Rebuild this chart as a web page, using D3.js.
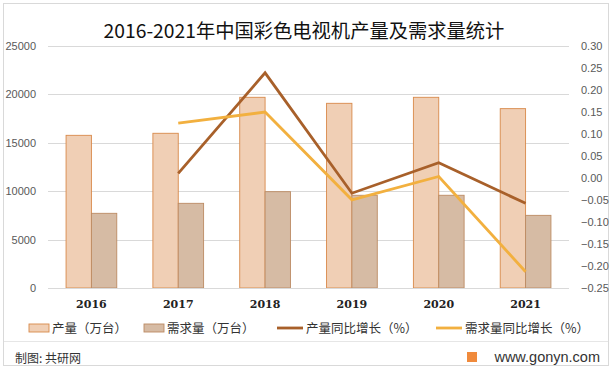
<!DOCTYPE html>
<html>
<head>
<meta charset="utf-8">
<script src="https://cdnjs.cloudflare.com/ajax/libs/d3/7.8.5/d3.min.js"></script>
<style>
	body { margin: 0; background: #fff; }
	svg { display: block; font-family: 'Noto Sans CJK SC', 'Noto Sans', sans-serif; }
</style>
</head>
<body>
<svg id="chart"></svg>
<script>
const WIDTH = 612;
const HEIGHT = 369;

const years = ['2016', '2017', '2018', '2019', '2020', '2021'];
const production = [15740, 15950, 19660, 19040, 19660, 18490];
const demand = [7700, 8730, 9930, 9560, 9560, 7490];
const productionGrowth = [null, 0.010, 0.238, -0.035, 0.034, -0.058];
const demandGrowth = [null, 0.124, 0.149, -0.050, 0.003, -0.213];

const leftTicks = [0, 5000, 10000, 15000, 20000, 25000];
const rightTicks = [0.30, 0.25, 0.20, 0.15, 0.10, 0.05, 0, -0.05, -0.10, -0.15, -0.20, -0.25];

const COLORS = {
	prod: '#F0CFB5',
	prodStroke: '#D8894A',
	demand: '#D6BBA4',
	demandStroke: '#BC8B63',
	prodLine: '#A8602A',
	demandLine: '#F2B03F',
	grid: '#D9D9D9',
	tick: '#595959'
};

const plot = { left: 48, right: 569, top: 45.5, bottom: 288 };

const svg = d3.select('#chart').attr('width', WIDTH).attr('height', HEIGHT);

// frame
svg.append('rect')
	.attr('x', 3.5).attr('y', 3.5)
	.attr('width', WIDTH - 7).attr('height', HEIGHT - 7)
	.attr('fill', '#fff').attr('stroke', '#D9D9D9');

const x = d3.scaleBand().domain(years).range([plot.left, plot.right]);
const y = d3.scaleLinear().domain([0, 25000]).range([plot.bottom, plot.top]);
const y2 = d3.scaleLinear().domain([-0.25, 0.30]).range([plot.bottom, plot.top]);

const barW = x.bandwidth() * 0.292;

// grid
svg.append('g')
	.selectAll('line')
	.data(leftTicks)
	.join('line')
	.attr('x1', plot.left).attr('x2', plot.right)
	.attr('y1', d => Math.round(y(d)) + 0.5).attr('y2', d => Math.round(y(d)) + 0.5)
	.attr('stroke', COLORS.grid);

// left axis
const axisL = d3.axisLeft(y).tickValues(leftTicks).tickSize(0).tickPadding(12)
	.tickFormat(d3.format('d'));
svg.append('g')
	.attr('transform', `translate(${plot.left},0)`)
	.call(axisL)
	.call(g => g.select('.domain').remove())
	.call(g => g.selectAll('text').attr('fill', COLORS.tick).style('font-size', '11px').style('font-family', 'Liberation Sans, sans-serif'));

// right axis
const axisR = d3.axisRight(y2).tickValues(rightTicks).tickSize(0).tickPadding(12)
	.tickFormat(d3.format('.2f'));
svg.append('g')
	.attr('transform', `translate(${plot.right},0)`)
	.call(axisR)
	.call(g => g.select('.domain').remove())
	.call(g => g.selectAll('text').attr('fill', COLORS.tick).style('font-size', '11px').style('font-family', 'Liberation Sans, sans-serif'));

// bars
const cx = d => x(d) + x.bandwidth() / 2;

svg.append('g')
	.selectAll('rect')
	.data(years)
	.join('rect')
	.attr('x', d => cx(d) - barW)
	.attr('y', (d, i) => y(production[i]))
	.attr('width', barW)
	.attr('height', (d, i) => y(0) - y(production[i]))
	.attr('fill', COLORS.prod)
	.attr('stroke', COLORS.prodStroke)
	.attr('stroke-width', 0.9);

svg.append('g')
	.selectAll('rect')
	.data(years)
	.join('rect')
	.attr('x', d => cx(d))
	.attr('y', (d, i) => y(demand[i]))
	.attr('width', barW)
	.attr('height', (d, i) => y(0) - y(demand[i]))
	.attr('fill', COLORS.demand)
	.attr('stroke', COLORS.demandStroke)
	.attr('stroke-width', 0.9);

// baseline
svg.append('line')
	.attr('x1', plot.left).attr('x2', plot.right)
	.attr('y1', y(0) + 0.5).attr('y2', y(0) + 0.5)
	.attr('stroke', COLORS.grid);

// lines
const line = d3.line()
	.defined(d => d.v !== null)
	.x(d => cx(d.year))
	.y(d => y2(d.v));

svg.append('path')
	.datum(years.map((year, i) => ({ year, v: productionGrowth[i] })))
	.attr('d', line)
	.attr('fill', 'none')
	.attr('stroke', COLORS.prodLine)
	.attr('stroke-width', 2.8);

svg.append('path')
	.datum(years.map((year, i) => ({ year, v: demandGrowth[i] })))
	.attr('d', line)
	.attr('fill', 'none')
	.attr('stroke', COLORS.demandLine)
	.attr('stroke-width', 2.8);

// category labels
svg.append('g')
	.selectAll('text')
	.data(years)
	.join('text')
	.attr('x', cx)
	.attr('y', 308)
	.attr('text-anchor', 'middle')
	.style('font-size', '11px')
	.style('font-weight', 'bold')
	.style('font-family', 'DejaVu Serif, serif')
	.attr('fill', '#222')
	.text(d => d);

// title
svg.append('text')
	.attr('x', 304)
	.attr('y', 38)
	.attr('text-anchor', 'middle')
	.style('font-size', '19.3px')
	.attr('fill', '#111')
	.text('2016-2021年中国彩色电视机产量及需求量统计');

// legend
const legend = [
	{ label: '产量（万台）', type: 'rect', fill: COLORS.prod, stroke: COLORS.prodStroke, x: 29 },
	{ label: '需求量（万台）', type: 'rect', fill: COLORS.demand, stroke: COLORS.demandStroke, x: 144 },
	{ label: '产量同比增长（%）', type: 'line', stroke: COLORS.prodLine, x: 277 },
	{ label: '需求量同比增长（%）', type: 'line', stroke: COLORS.demandLine, x: 436 }
];
const lg = svg.append('g').selectAll('g').data(legend).join('g')
	.attr('transform', d => `translate(${d.x},328)`);
lg.filter(d => d.type === 'rect').append('rect')
	.attr('x', 0).attr('y', -4).attr('width', 20).attr('height', 8)
	.attr('fill', d => d.fill).attr('stroke', d => d.stroke).attr('stroke-width', 0.9);
lg.filter(d => d.type === 'line').append('line')
	.attr('x1', 0).attr('x2', 26).attr('y1', 0).attr('y2', 0)
	.attr('stroke', d => d.stroke).attr('stroke-width', 2.8);
lg.append('text')
	.attr('x', d => d.type === 'rect' ? 23 : 29)
	.attr('y', 4.5)
	.style('font-size', '12.5px')
	.attr('fill', '#333')
	.text(d => d.label);

// footer
svg.append('line')
	.attr('x1', 4).attr('x2', WIDTH - 4)
	.attr('y1', 341.5).attr('y2', 341.5)
	.attr('stroke', '#E6E6E6');
svg.append('text')
	.attr('x', 15).attr('y', 363)
	.style('font-size', '12px')
	.attr('fill', '#333')
	.text('制图: 共研网');
svg.append('rect')
	.attr('x', 467).attr('y', 352).attr('width', 10).attr('height', 10)
	.attr('fill', '#F08A3C');
svg.append('text')
	.attr('x', 600).attr('y', 362)
	.attr('text-anchor', 'end')
	.style('font-size', '14.5px')
	.style('font-family', 'Liberation Sans, sans-serif')
	.attr('fill', '#333')
	.text('www.gonyn.com');
</script>
</body>
</html>
